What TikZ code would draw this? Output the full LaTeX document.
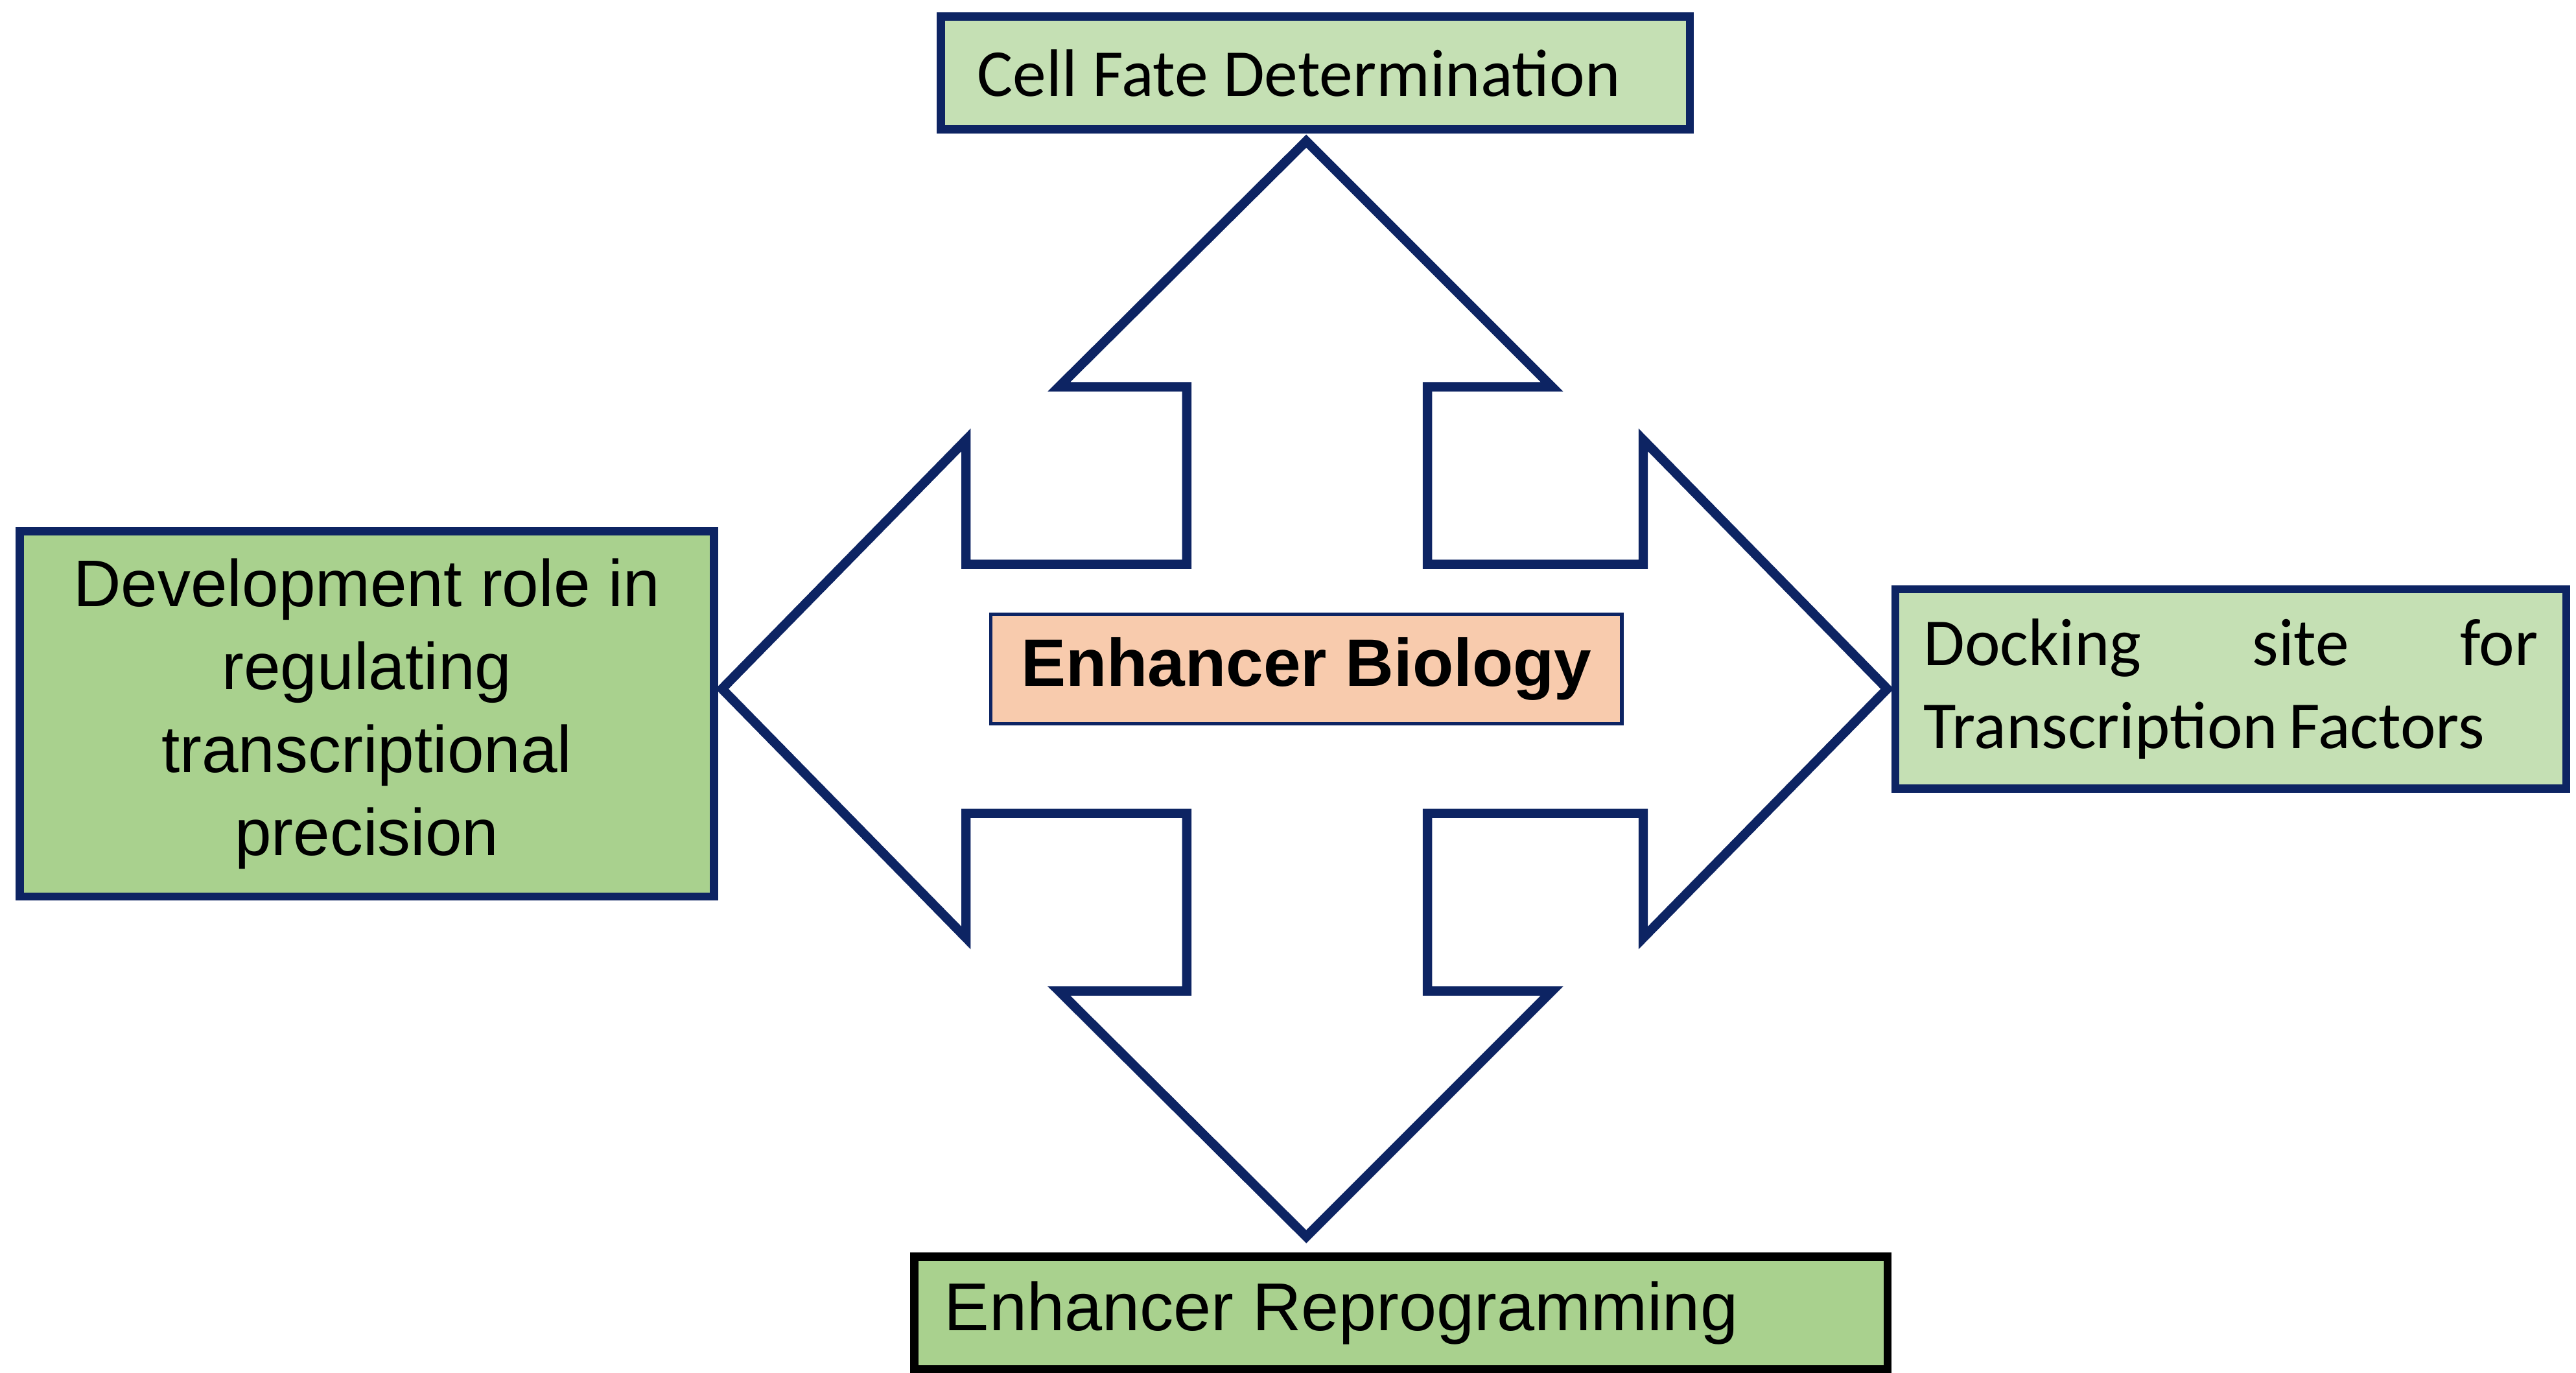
\documentclass[tikz,border=0pt]{standalone}
\usepackage{fontspec}
\setmainfont{Liberation Sans}
\newfontfamily\cali{Carlito}
\definecolor{navy}{HTML}{0D2463}
\definecolor{palegreen}{HTML}{C5E0B4}
\definecolor{midgreen}{HTML}{A9D18E}
\definecolor{peach}{HTML}{F8CBAD}
\tikzset{
  box/.style={rectangle, draw=navy, line width=1.4pt, inner sep=0pt},
  crossarrow/.style={draw=navy, line width=1.6pt, fill=white, line join=miter}
}
\begin{document}
\begin{tikzpicture}[x=0.01cm,y=-0.01cm]
\useasboundingbox (0,0) rectangle (1552,827);

% four-way arrow
\draw[crossarrow] (787,85) -- (935,233) -- (860,233) -- (860,340) -- (990,340) -- (990,265)
  -- (1137,415) -- (990,565) -- (990,490) -- (860,490) -- (860,597) -- (935,597)
  -- (787,745) -- (638,597) -- (715,597) -- (715,490) -- (582,490) -- (582,565)
  -- (435,415) -- (582,265) -- (582,340) -- (715,340) -- (715,233) -- (638,233) -- cycle;

% boxes
\node (fate) [box, fill=palegreen, minimum width=4.51cm, minimum height=0.68cm] at (792.5,44)
  {\hspace*{-0.2cm}\cali\fontsize{11.5}{14}\selectfont Cell Fate Determination};
\node (devel) [box, fill=midgreen, minimum width=4.18cm, minimum height=2.2cm, align=center,
  font=\fontsize{11.3}{14.2}\selectfont] at (221,430)
  {Development role in\\regulating\\transcriptional\\precision};
\node (dock) [box, fill=palegreen, minimum width=4.04cm, minimum height=1.2cm] at (1344,415) {};
\node (docktext) [text width=3.7cm, align=left, font=\cali\fontsize{11.5}{14.2}\selectfont] at (dock)
  {Docking \hfill site \hfill for\\Transcription\,Factors};
\node (reprog) [box, draw=black, fill=midgreen, minimum width=5.86cm, minimum height=0.68cm,
  font=\fontsize{11.6}{14}\selectfont] at (844,791)
  {\hspace*{-0.72cm}Enhancer Reprogramming};
\node (biology) [box, line width=0.6pt, fill=peach, minimum width=3.8cm, minimum height=0.66cm,
  font=\bfseries\fontsize{11.5}{14}\selectfont] at (787,403) {Enhancer Biology};

\end{tikzpicture}
\end{document}
